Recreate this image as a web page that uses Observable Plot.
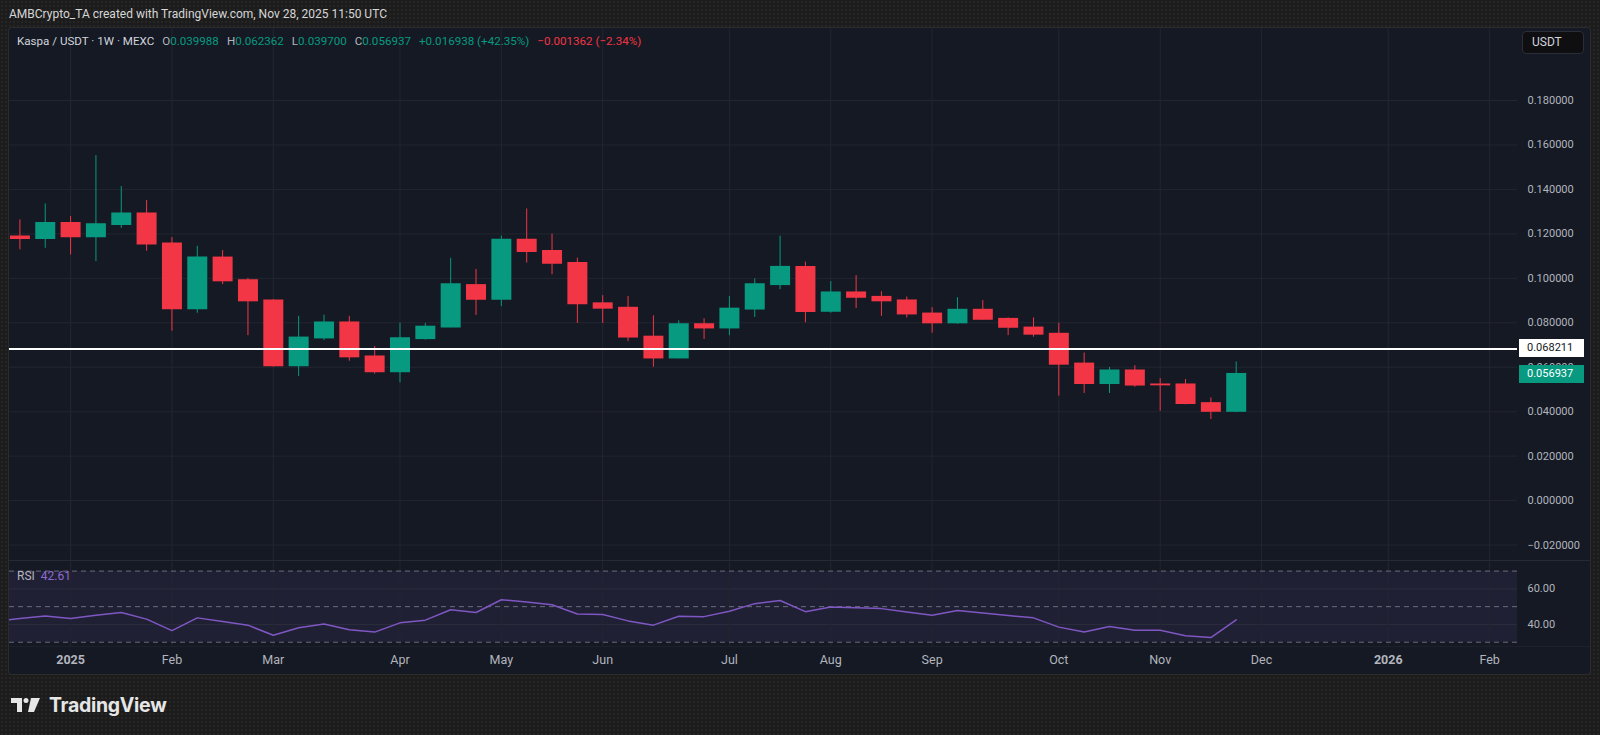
<!DOCTYPE html>
<html>
<head>
<meta charset="utf-8">
<script src="https://cdn.jsdelivr.net/npm/d3@7"></script>
<script src="https://cdn.jsdelivr.net/npm/@observablehq/plot@0.6"></script>
<style>
  html, body { margin: 0; padding: 0; background: #1c1c1c; }
  #root {
    position: relative; width: 1600px; height: 735px; overflow: hidden;
    font-family: Roboto, "Noto Sans", sans-serif;
    background-color: #1c1c1c;
    background-image: radial-gradient(rgba(255,255,255,0.045) 0.7px, transparent 0.9px);
    background-size: 4px 4px;
  }
  #credit { position: absolute; left: 9px; top: 7px; font-size: 12px; color: #d6d6d6; white-space: nowrap; }
  #panel {
    position: absolute; left: 9px; top: 28px; width: 1581px; height: 646px;
    background: #151923; border-radius: 3px; overflow: hidden;
    box-shadow: 0 0 0 1px #2c2c2c;
  }
  #panel > div, #panel > svg { position: absolute; }
  #pricePane { left: 0; top: 0; }
  #rsiPane { left: 0; top: 533px; }
  .sep { position: absolute; left: 0; width: 1581px; height: 1px; background: #262a35; }
  #legend { left: 8px; top: 5px; font-size: 11.6px; color: #b2b5be; white-space: nowrap; line-height: 16px; }
  #legend .g { color: #089981; }
  #legend .r { color: #f23645; }
  #legend .t { color: #d1d4dc; }
  #legend .gap { display: inline-block; width: 8px; }
  #usdt {
    left: 1513px; top: 3px; width: 62px; height: 23px; box-sizing: border-box;
    border: 1px solid #2a2e39; border-radius: 4px; background: #0f0f12;
    color: #d1d4dc; font-size: 12px; line-height: 21px; padding-left: 9px;
  }
  .plabel {
    left: 1510px; width: 65px; height: 18px; line-height: 18px; font-size: 11px;
    padding-left: 8px; box-sizing: border-box;
  }
  #rsiLabel { left: 8px; top: 541px; font-size: 12px; color: #b2b5be; white-space: nowrap; }
  #rsiLabel span { color: #8e6bd0; margin-left: 6px; }
  #logo { position: absolute; left: 11px; top: 693px; display: flex; align-items: center; }
  #logo .word { font-family: Inter, Roboto, sans-serif; font-weight: 700; font-size: 19.5px; color: #e6e6e6; margin-left: 8px; letter-spacing: -0.3px; }
</style>
</head>
<body>
<div id="root">
  <div id="credit">AMBCrypto_TA created with TradingView.com, Nov 28, 2025 11:50 UTC</div>
  <div id="panel"></div>
  <div id="logo">
    <svg width="30" height="16" viewBox="0 0 30 16">
      <path d="M0 1 H11 V15 H6 V6 H0 Z" fill="#e6e6e6"/>
      <circle cx="15" cy="3.5" r="2.5" fill="#e6e6e6"/>
      <path d="M20 1 H29 L23 15 H17 Z" fill="#e6e6e6"/>
    </svg>
    <span class="word">TradingView</span>
  </div>
</div>
<script>
// ---------- data ----------
const weekDates = [
  "2024-12-23","2024-12-30","2025-01-06","2025-01-13","2025-01-20","2025-01-27",
  "2025-02-03","2025-02-10","2025-02-17","2025-02-24","2025-03-03","2025-03-10",
  "2025-03-17","2025-03-24","2025-03-31","2025-04-07","2025-04-14","2025-04-21",
  "2025-04-28","2025-05-05","2025-05-12","2025-05-19","2025-05-26","2025-06-02",
  "2025-06-09","2025-06-16","2025-06-23","2025-06-30","2025-07-07","2025-07-14",
  "2025-07-21","2025-07-28","2025-08-04","2025-08-11","2025-08-18","2025-08-25",
  "2025-09-01","2025-09-08","2025-09-15","2025-09-22","2025-09-29","2025-10-06",
  "2025-10-13","2025-10-20","2025-10-27","2025-11-03","2025-11-10","2025-11-17",
  "2025-11-24"
];
const opens = [
  0.1188,0.1177,0.1248,0.1185,0.1240,0.1291,0.1156,0.0861,0.1093,0.0991,0.0900,0.0605,
  0.0730,0.0801,0.0648,0.0578,0.0727,0.0779,0.0969,0.0904,0.1173,0.1122,0.1069,0.0887,
  0.0867,0.0737,0.0640,0.0793,0.0775,0.0860,0.0970,0.1051,0.0850,0.0936,0.0916,0.0900,
  0.0841,0.0798,0.0858,0.0817,0.0778,0.0750,0.0616,0.0525,0.0585,0.0522,0.0522,0.0438,
  0.039988
];
const highs = [
  0.1263,0.1335,0.1278,0.1552,0.1413,0.1350,0.1183,0.1144,0.1125,0.1000,0.0904,0.0829,
  0.0834,0.0829,0.0693,0.0798,0.0797,0.1090,0.1040,0.1190,0.1312,0.1199,0.1091,0.0922,
  0.0918,0.0831,0.0809,0.0818,0.0918,0.0997,0.1190,0.1073,0.0985,0.1012,0.0940,0.0916,
  0.0868,0.0913,0.0900,0.0822,0.0822,0.0798,0.0664,0.0599,0.0607,0.0549,0.0545,0.0462,
  0.062362
];
const lows = [
  0.1128,0.1135,0.1105,0.1075,0.1225,0.1122,0.0762,0.0843,0.0972,0.0742,0.0600,0.0558,
  0.0720,0.0627,0.0569,0.0530,0.0722,0.0777,0.0833,0.0873,0.1069,0.1016,0.0797,0.0797,
  0.0715,0.0600,0.0638,0.0725,0.0742,0.0824,0.0949,0.0800,0.0843,0.0864,0.0829,0.0822,
  0.0753,0.0793,0.0812,0.0742,0.0735,0.0470,0.0482,0.0482,0.0510,0.0402,0.0431,0.0365,
  0.039700
];
const closes = [
  0.1177,0.1248,0.1185,0.1243,0.1291,0.1153,0.0861,0.1093,0.0987,0.0897,0.0605,0.0733,
  0.0801,0.0645,0.0578,0.0730,0.0782,0.0973,0.0904,0.1173,0.1119,0.1066,0.0884,0.0864,
  0.0734,0.0640,0.0793,0.0775,0.0863,0.0973,0.1051,0.0849,0.0936,0.0913,0.0897,0.0838,
  0.0798,0.0858,0.0814,0.0778,0.0747,0.0612,0.0525,0.0585,0.0518,0.0519,0.0435,0.0400,
  0.056937
];
// RSI (14) weekly, includes the week before the first visible candle
const rsiDates = ["2024-12-16", ...weekDates];
const rsiValues = [
  41.8,
  43.3,44.8,43.3,45.2,46.7,43.0,36.5,43.7,41.7,39.6,33.9,38.1,
  40.2,37.0,35.7,40.9,42.4,48.3,46.7,53.9,52.6,51.1,45.9,45.6,
  42.0,39.6,44.6,44.4,47.4,51.7,53.5,47.2,49.8,49.4,48.9,47.0,
  45.2,47.8,46.5,45.0,43.7,38.5,35.7,38.9,36.7,36.7,33.7,32.6,
  42.61
];
const priceTicks = [-0.02, 0, 0.02, 0.04, 0.06, 0.08, 0.10, 0.12, 0.14, 0.16, 0.18];
const rsiTicks = [40, 60];
const rsiBands = [30, 50, 70];
const xTickDates = [
  "2025-01-06","2025-02-03","2025-03-03","2025-04-07","2025-05-05","2025-06-02",
  "2025-07-07","2025-08-04","2025-09-01","2025-10-06","2025-11-03","2025-12-01",
  "2026-01-05","2026-02-02"
];
const xTickLabels = ["2025","Feb","Mar","Apr","May","Jun","Jul","Aug","Sep","Oct","Nov","Dec","2026","Feb"];
const markedLevel = 0.068211;
const lastClose = 0.056937;
const header = { symbol: "Kaspa / USDT · 1W · MEXC", o: "0.039988", h: "0.062362", l: "0.039700", c: "0.056937",
                 chg: "+0.016938 (+42.35%)", chg2: "−0.001362 (−2.34%)" };

// ---------- build ----------
const UP = "#089981", DOWN = "#F23645", GRID = "#222631";
const candles = weekDates.map((d, i) => ({
  date: new Date(d), open: opens[i], high: highs[i], low: lows[i], close: closes[i]
}));
const rsiData = rsiDates.map((d, i) => ({ date: new Date(d), rsi: rsiValues[i] }));
const ticks = xTickDates.map(d => new Date(d));
const labelOf = new Map(ticks.map((d, i) => [+d, xTickLabels[i]]));
const isYear = d => /^\d{4}$/.test(labelOf.get(+d));
const xDomain = [new Date("2024-12-20T03:00Z"), new Date("2026-02-09T17:00Z")];
const W = 1581, MR = 73;
const baseStyle = "background: transparent; color: #b2b5be; font-family: Roboto, sans-serif; overflow: visible;";

const isUp = d => d.close >= d.open;
const bodyTop = d => Math.max(d.open, d.close);
const bodyBot = d => Math.min(d.open, d.close);

const price = Plot.plot({
  width: W, height: 533,
  marginTop: 0, marginBottom: 0, marginLeft: 0, marginRight: MR,
  x: { type: "utc", domain: xDomain, axis: null, label: null },
  y: { domain: [-0.0274, 0.2124], axis: null, label: null },
  style: baseStyle,
  marks: [
    Plot.gridY(priceTicks, { stroke: GRID, strokeOpacity: 1 }),
    Plot.gridX(ticks, { stroke: GRID, strokeOpacity: 1 }),
    Plot.axisY(priceTicks, { anchor: "right", tickSize: 0, tickPadding: 10, fontSize: 11, label: null,
      tickFormat: d3.format(".6f") }),
    Plot.ruleX(candles.filter(isUp), { x: "date", y1: "low", y2: "high", stroke: UP, strokeWidth: 1 }),
    Plot.ruleX(candles.filter(d => !isUp(d)), { x: "date", y1: "low", y2: "high", stroke: DOWN, strokeWidth: 1 }),
    Plot.ruleX(candles.filter(isUp), { x: "date", y1: bodyTop, y2: bodyBot, stroke: UP, strokeWidth: 20,
      insetTop: -0.6, insetBottom: -0.6 }),
    Plot.ruleX(candles.filter(d => !isUp(d)), { x: "date", y1: bodyTop, y2: bodyBot, stroke: DOWN, strokeWidth: 20,
      insetTop: -0.6, insetBottom: -0.6 }),
    Plot.ruleY([markedLevel], { stroke: "#ffffff", strokeWidth: 2 })
  ]
});
price.id = "pricePane";

const rsi = Plot.plot({
  width: W, height: 113,
  marginTop: 0, marginBottom: 28, marginLeft: 0, marginRight: MR,
  x: { type: "utc", domain: xDomain, axis: null, label: null },
  y: { domain: [27.6, 75.4], axis: null, label: null },
  style: baseStyle,
  marks: [
    Plot.rect([rsiBands], { y1: rsiBands[0], y2: rsiBands[2], fill: "#7E57C2", fillOpacity: 0.11 }),
    Plot.gridY(rsiTicks, { stroke: "#2b2d3d", strokeOpacity: 1 }),
    Plot.gridX(ticks, { stroke: GRID, strokeOpacity: 1 }),
    Plot.ruleY(rsiBands, { stroke: "#787b86", strokeDasharray: "5,4", strokeOpacity: 0.85 }),
    Plot.line(rsiData, { x: "date", y: "rsi", stroke: "#7E57C2", strokeWidth: 1.5, clip: true }),
    Plot.axisY(rsiTicks, { anchor: "right", tickSize: 0, tickPadding: 10, fontSize: 11, label: null,
      tickFormat: d => d.toFixed(2) }),
    Plot.axisX(ticks.filter(d => !isYear(d)), { anchor: "bottom", tickSize: 0, tickPadding: 9, fontSize: 12.5,
      label: null, tickFormat: d => labelOf.get(+d) }),
    Plot.axisX(ticks.filter(isYear), { anchor: "bottom", tickSize: 0, tickPadding: 9, fontSize: 12.5,
      label: null, fontWeight: "bold", tickFormat: d => labelOf.get(+d) })
  ]
});
rsi.id = "rsiPane";

const panel = document.getElementById("panel");
panel.appendChild(price);
panel.appendChild(rsi);

function addDiv(id, cls, html, styleText) {
  const el = document.createElement("div");
  if (id) el.id = id;
  if (cls) el.className = cls;
  el.innerHTML = html;
  if (styleText) el.style.cssText += styleText;
  panel.appendChild(el);
  return el;
}
addDiv(null, "sep", "", "top:532px;");
addDiv(null, "sep", "", "top:618px; background:#1d212b;");
const gap = '<span class="gap"></span>';
addDiv("legend", null,
  `<span class="t">${header.symbol}</span>${gap}O<span class="g">${header.o}</span>${gap}H<span class="g">${header.h}</span>${gap}L<span class="g">${header.l}</span>${gap}C<span class="g">${header.c}</span>${gap}<span class="g">${header.chg}</span>${gap}<span class="r">${header.chg2}</span>`);
addDiv("usdt", null, "USDT");
addDiv("rsiLabel", null, `RSI<span>${rsiValues[rsiValues.length - 1].toFixed(2)}</span>`);

const ys = price.scale("y");
addDiv(null, "plabel", d3.format(".6f")(markedLevel),
  `top:${ys.apply(markedLevel) - 9}px; background:#ffffff; color:#131722;`);
addDiv(null, "plabel", d3.format(".6f")(lastClose),
  `top:${ys.apply(lastClose) - 9}px; background:${UP}; color:#ffffff;`);
</script>
</body>
</html>
